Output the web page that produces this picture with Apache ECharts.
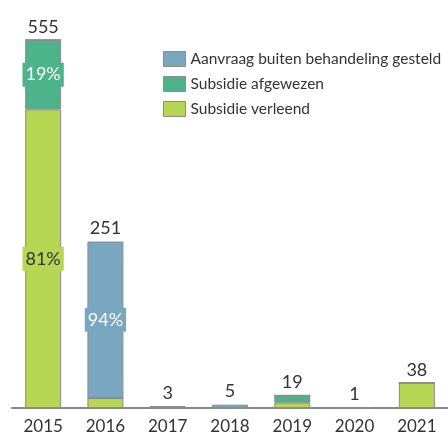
<!DOCTYPE html>
<html>
<head>
<meta charset="utf-8">
<script src="https://cdn.jsdelivr.net/npm/echarts@6/dist/echarts.min.js"></script>
<style>
  html, body { margin: 0; padding: 0; background: #fff; }
  #chart { width: 448px; height: 435px; }
</style>
</head>
<body>
<div id="chart"></div>
<script>
const years = ["2015", "2016", "2017", "2018", "2019", "2020", "2021"];
const buiten = [0, 236, 3, 5, 0, 1, 0];
const afgewezen = [105, 0, 0, 0, 11, 0, 0];
const verleend = [450, 15, 0, 0, 8, 0, 38];
const totals = years.map((y, i) => buiten[i] + afgewezen[i] + verleend[i]);

const font = "Lato, 'Open Sans', sans-serif";

function seg(name, values, color, textColor) {
  return {
    name: name,
    type: "bar",
    stack: "total",
    barWidth: 36,
    data: values.map(v => ({
      value: v,
      label: { show: v >= 100, fontSize: 18, fontFamily: font }
    })),
    itemStyle: { color: color, borderColor: "#8c8c8c", borderWidth: 1 },
    label: {
      position: "inside",
      formatter: p => Math.round(p.value / totals[p.dataIndex] * 100) + "%",
      color: textColor,
      backgroundColor: color,
      fontFamily: font,
      fontSize: 18,
      padding: [3, 3]
    }
  };
}

const chart = echarts.init(document.getElementById("chart"));
chart.setOption({
  animation: false,
  textStyle: { fontFamily: font },
  grid: { left: 12, width: 441, top: 10, bottom: 27 },
  legend: {
    data: ["Aanvraag buiten behandeling gesteld", "Subsidie afgewezen", "Subsidie verleend"],
    orient: "vertical",
    left: 163,
    top: 51,
    padding: 0,
    icon: "rect",
    itemWidth: 22,
    itemHeight: 15,
    itemGap: 9,
    textStyle: { fontFamily: font, fontSize: 15.5, color: "#333" },
    itemStyle: { borderColor: "#8c8c8c", borderWidth: 1 }
  },
  xAxis: {
    type: "category",
    data: years,
    axisLine: { lineStyle: { color: "#888", width: 2 } },
    axisTick: { show: false },
    axisLabel: { fontFamily: font, fontSize: 17, color: "#333", margin: 10 }
  },
  yAxis: {
    type: "value",
    min: 0,
    max: 600,
    show: false,
    splitLine: { show: false }
  },
  series: [
    seg("Subsidie verleend", verleend, "#b6d654", "#333"),
    seg("Subsidie afgewezen", afgewezen, "#4db38a", "#fff"),
    seg("Aanvraag buiten behandeling gesteld", buiten, "#79a7bf", "#fff"),
    {
      name: "totaal",
      type: "bar",
      stack: "total",
      barWidth: 36,
      data: years.map(() => 0),
      itemStyle: { color: "transparent", borderWidth: 0 },
      label: {
        show: true,
        position: "top",
        distance: 4,
        formatter: p => totals[p.dataIndex],
        fontFamily: font,
        fontSize: 18,
        color: "#333"
      }
    }
  ]
});
</script>
</body>
</html>
